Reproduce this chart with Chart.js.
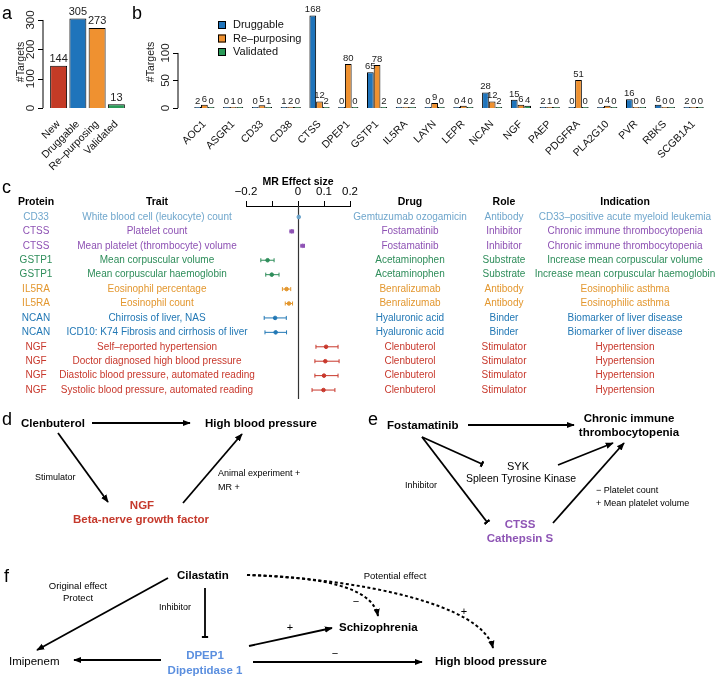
<!DOCTYPE html>
<html>
<head>
<meta charset="utf-8">
<script src="https://cdn.jsdelivr.net/npm/chart.js@4.4.1/dist/chart.umd.min.js"></script>
<style>
  html, body { margin: 0; padding: 0; background: #fff; }
  #fig { position: relative; width: 720px; height: 680px; overflow: hidden; font-family: "Liberation Sans", Arial, sans-serif; }
  canvas { position: absolute; }
  #chart-a { left: 0; top: 0; }
  #chart-b { left: 130px; top: 0; }
  #chart-c { left: 0; top: 160px; }
  svg { position: absolute; left: 0; top: 0; }
  svg text { font-family: "Liberation Sans", Arial, sans-serif; }
  .node { font-weight: bold; font-size: 11.5px; }
  .small { font-size: 9px; }
  .lab { font-size: 18px; }
</style>
</head>
<body>
<div id="fig">
  <canvas id="chart-a" width="130" height="175"></canvas>
  <canvas id="chart-b" width="590" height="175"></canvas>
  <canvas id="chart-c" width="720" height="250"></canvas>
  <svg width="720" height="680" viewBox="0 0 720 680">
    <defs>
      <marker id="arr" viewBox="0 0 10 10" refX="9" refY="5" markerWidth="8" markerHeight="8" markerUnits="userSpaceOnUse" orient="auto">
        <path d="M0,1 L10,5 L0,9 z" fill="#000"/>
      </marker>
      <marker id="tee" viewBox="0 0 4 10" refX="2" refY="5" markerWidth="2.5" markerHeight="9" markerUnits="userSpaceOnUse" orient="auto">
        <rect x="0" y="0" width="4" height="10" fill="#000"/>
      </marker>
    </defs>
    <!-- panel labels -->
    <text class="lab" x="2" y="19">a</text>
    <text class="lab" x="132" y="19">b</text>
    <text class="lab" x="2" y="193">c</text>
    <text class="lab" x="2" y="425">d</text>
    <text class="lab" x="368" y="425">e</text>
    <text class="lab" x="4" y="582">f</text>

    <g stroke="#000" stroke-width="1.8" fill="none">
      <!-- d -->
      <line x1="92" y1="423" x2="190" y2="423" marker-end="url(#arr)"/>
      <line x1="58" y1="433" x2="108" y2="502" marker-end="url(#arr)"/>
      <line x1="183" y1="503" x2="242" y2="434" marker-end="url(#arr)"/>
      <!-- e -->
      <line x1="468" y1="425" x2="574" y2="425" marker-end="url(#arr)"/>
      <line x1="422" y1="437" x2="482" y2="464" marker-end="url(#tee)"/>
      <line x1="422" y1="437" x2="487" y2="522" marker-end="url(#tee)"/>
      <line x1="558" y1="465" x2="613" y2="443" marker-end="url(#arr)"/>
      <line x1="553" y1="523" x2="624" y2="443" marker-end="url(#arr)"/>
      <!-- f -->
      <line x1="168" y1="578" x2="37" y2="650" marker-end="url(#arr)"/>
      <line x1="205" y1="588" x2="205" y2="637" marker-end="url(#tee)"/>
      <line x1="161" y1="660" x2="74" y2="660" marker-end="url(#arr)"/>
      <line x1="249" y1="646" x2="332" y2="628" marker-end="url(#arr)"/>
      <line x1="253" y1="662" x2="422" y2="662" marker-end="url(#arr)"/>
      <path d="M247,575 C320,577 372,586 378,616" stroke-dasharray="3,2.5" stroke-width="2" marker-end="url(#arr)"/>
      <path d="M247,575 C360,579 482,604 493,648" stroke-dasharray="3,2.5" stroke-width="2" marker-end="url(#arr)"/>
    </g>

    <!-- d text -->
    <text class="node" x="21" y="427">Clenbuterol</text>
    <text class="node" x="205" y="427">High blood pressure</text>
    <text class="small" x="35" y="480">Stimulator</text>
    <text class="small" x="218" y="476">Animal experiment +</text>
    <text class="small" x="218" y="490">MR +</text>
    <text class="node" x="142" y="509" text-anchor="middle" fill="#c5392c">NGF</text>
    <text class="node" x="141" y="523" text-anchor="middle" fill="#c5392c">Beta-nerve growth factor</text>

    <!-- e text -->
    <text class="node" x="387" y="429">Fostamatinib</text>
    <text class="node" x="629" y="422" text-anchor="middle">Chronic immune</text>
    <text class="node" x="629" y="436" text-anchor="middle">thrombocytopenia</text>
    <text x="518" y="470" text-anchor="middle" font-size="11">SYK</text>
    <text x="521" y="482" text-anchor="middle" font-size="10.5">Spleen Tyrosine Kinase</text>
    <text class="small" x="405" y="488">Inhibitor</text>
    <text class="node" x="520" y="528" text-anchor="middle" fill="#8e55b5">CTSS</text>
    <text class="node" x="520" y="542" text-anchor="middle" fill="#8e55b5">Cathepsin S</text>
    <text class="small" x="596" y="493">− Platelet count</text>
    <text class="small" x="596" y="506">+ Mean platelet volume</text>

    <!-- f text -->
    <text class="node" x="177" y="579">Cilastatin</text>
    <text x="78" y="589" text-anchor="middle" font-size="9.5">Original effect</text>
    <text x="78" y="601" text-anchor="middle" font-size="9.5">Protect</text>
    <text class="small" x="175" y="610" text-anchor="middle">Inhibitor</text>
    <text class="node" x="205" y="659" text-anchor="middle" fill="#5b8fdf">DPEP1</text>
    <text class="node" x="205" y="674" text-anchor="middle" fill="#5b8fdf">Dipeptidase 1</text>
    <text x="9" y="665" font-size="11.5">Imipenem</text>
    <text x="290" y="631" text-anchor="middle" font-size="11">+</text>
    <text class="node" x="339" y="631">Schizophrenia</text>
    <text x="335" y="657" text-anchor="middle" font-size="11">−</text>
    <text class="node" x="435" y="665">High blood pressure</text>
    <text x="395" y="579" text-anchor="middle" font-size="9.5">Potential effect</text>
    <text x="356" y="605" text-anchor="middle" font-size="11">−</text>
    <text x="464" y="615" text-anchor="middle" font-size="11">+</text>
  </svg>
</div>

<script>
// ---- panel a: target counts ----
const summaryLabels = ['New', 'Druggable', 'Re\u2013purposing', 'Validated'];
const summaryCounts = [144, 305, 273, 13];
const summaryTicks = [0, 100, 200, 300];

// ---- panel b: per-protein counts ----
const targetGenes = ['AOC1', 'ASGR1', 'CD33', 'CD38', 'CTSS', 'DPEP1', 'GSTP1', 'IL5RA', 'LAYN',
  'LEPR', 'NCAN', 'NGF', 'PAEP', 'PDGFRA', 'PLA2G10', 'PVR', 'RBKS', 'SCGB1A1'];
const druggableCounts =   [2, 0, 0, 1, 168, 0, 65, 0, 0, 0, 28, 15, 2, 0, 0, 16, 6, 2];
const repurposingCounts = [6, 1, 5, 2, 12, 80, 78, 2, 9, 4, 12, 6, 1, 51, 4, 0, 0, 0];
const validatedCounts =   [0, 0, 1, 0, 2, 0, 2, 2, 0, 0, 2, 4, 0, 0, 0, 0, 0, 0];
const geneTicks = [0, 50, 100];

// ---- panel c: MR effects ----
const mrProteins = ['CD33', 'CTSS', 'CTSS', 'GSTP1', 'GSTP1', 'IL5RA', 'IL5RA', 'NCAN', 'NCAN', 'NGF', 'NGF', 'NGF', 'NGF'];
const mrTraits = [
  'White blood cell (leukocyte) count', 'Platelet count', 'Mean platelet (thrombocyte) volume',
  'Mean corpuscular volume', 'Mean corpuscular haemoglobin', 'Eosinophil percentage', 'Eosinophil count',
  'Chirrosis of liver, NAS', 'ICD10: K74 Fibrosis and cirrhosis of liver', 'Self\u2013reported hypertension',
  'Doctor diagnosed high blood pressure', 'Diastolic blood pressure, automated reading',
  'Systolic blood pressure, automated reading'
];
const mrEffect = [0.003, -0.024, 0.018, -0.117, -0.101, -0.044, -0.035, -0.088, -0.086, 0.108, 0.105, 0.100, 0.098];
const mrLow =    [0.000, -0.031, 0.011, -0.143, -0.124, -0.060, -0.049, -0.130, -0.127, 0.069, 0.065, 0.065, 0.054];
const mrHigh =   [0.006, -0.017, 0.025, -0.092, -0.073, -0.028, -0.021, -0.045, -0.044, 0.154, 0.158, 0.154, 0.142];
const mrDrugs = ['Gemtuzumab ozogamicin', 'Fostamatinib', 'Fostamatinib', 'Acetaminophen', 'Acetaminophen',
  'Benralizumab', 'Benralizumab', 'Hyaluronic acid', 'Hyaluronic acid', 'Clenbuterol', 'Clenbuterol', 'Clenbuterol', 'Clenbuterol'];
const mrRoles = ['Antibody', 'Inhibitor', 'Inhibitor', 'Substrate', 'Substrate', 'Antibody', 'Antibody',
  'Binder', 'Binder', 'Stimulator', 'Stimulator', 'Stimulator', 'Stimulator'];
const mrIndications = ['CD33\u2013positive acute myeloid leukemia', 'Chronic immune thrombocytopenia',
  'Chronic immune thrombocytopenia', 'Increase mean corpuscular volume', 'Increase mean corpuscular haemoglobin',
  'Eosinophilic asthma', 'Eosinophilic asthma', 'Biomarker of liver disease', 'Biomarker of liver disease',
  'Hypertension', 'Hypertension', 'Hypertension', 'Hypertension'];
const effectTicks = [-0.2, -0.1, 0, 0.1, 0.2];

const proteinColors = {
  CD33: '#6fa6cc', CTSS: '#8e52b4', GSTP1: '#2e8d5a', IL5RA: '#e3972f', NCAN: '#2278b5', NGF: '#c8382c'
};
const FONT = '"Liberation Sans", Arial, sans-serif';
const BLUE = '#1f74bb', ORANGE = '#ef9130', GREEN = '#2a9a58', RED = '#c43b26';

Chart.defaults.font.family = FONT;
Chart.defaults.color = '#000';

// R-like y axis: line only over tick range, rotated labels
const rAxis = {
  id: 'rAxis',
  afterDraw(chart, args, opts) {
    const { ctx } = chart;
    const y = chart.scales.y;
    const x0 = opts.x;
    ctx.save();
    ctx.strokeStyle = '#000';
    ctx.lineWidth = 1;
    ctx.beginPath();
    ctx.moveTo(x0, y.getPixelForValue(opts.ticks[0]));
    ctx.lineTo(x0, y.getPixelForValue(opts.ticks[opts.ticks.length - 1]));
    opts.ticks.forEach(t => {
      const py = Math.round(y.getPixelForValue(t)) + 0.5;
      ctx.moveTo(x0, py);
      ctx.lineTo(x0 - 5, py);
    });
    ctx.stroke();
    ctx.fillStyle = '#222';
    ctx.font = `11.5px ${FONT}`;
    ctx.textAlign = 'center';
    ctx.textBaseline = 'bottom';
    opts.ticks.forEach(t => {
      ctx.save();
      ctx.translate(x0 - 6, y.getPixelForValue(t));
      ctx.rotate(-Math.PI / 2);
      ctx.fillText(String(t), 0, 0);
      ctx.restore();
    });
    ctx.font = `10.5px ${FONT}`;
    ctx.textBaseline = 'middle';
    ctx.translate(opts.titleX, opts.titleY);
    ctx.rotate(-Math.PI / 2);
    ctx.fillText('#Targets', 0, 0);
    ctx.restore();
  }
};

// numbers above bars
const barValues = {
  id: 'barValues',
  afterDatasetsDraw(chart, args, opts) {
    const { ctx } = chart;
    ctx.save();
    ctx.font = `${opts.size}px ${FONT}`;
    ctx.fillStyle = '#222';
    ctx.textAlign = 'center';
    ctx.textBaseline = 'bottom';
    chart.data.datasets.forEach((ds, i) => {
      chart.getDatasetMeta(i).data.forEach((bar, j) => {
        ctx.fillText(String(ds.data[j]), bar.x, bar.y - 1);
      });
    });
    ctx.restore();
  }
};

// simple square legend
const boxLegend = {
  id: 'boxLegend',
  afterDraw(chart, args, opts) {
    const { ctx } = chart;
    ctx.save();
    ctx.font = `11px ${FONT}`;
    ctx.textBaseline = 'middle';
    chart.data.datasets.forEach((ds, i) => {
      const y = opts.y + i * opts.step;
      ctx.fillStyle = ds.backgroundColor;
      ctx.fillRect(opts.x, y - 4, 8, 8);
      ctx.strokeStyle = '#000';
      ctx.strokeRect(opts.x + 0.5, y - 3.5, 7, 7);
      ctx.fillStyle = '#111';
      ctx.fillText(ds.label, opts.x + 15, y);
    });
    ctx.restore();
  }
};

function barScales(yMax, xFont) {
  return {
    x: {
      grid: { display: false },
      border: { display: false },
      ticks: { autoSkip: false, minRotation: 45, maxRotation: 45, padding: 2, font: { size: xFont }, color: '#111' },
      afterFit: s => { s.height = 67; }
    },
    y: { display: false, min: 0, max: yMax }
  };
}

new Chart(document.getElementById('chart-a'), {
  type: 'bar',
  data: {
    labels: summaryLabels,
    datasets: [{
      data: summaryCounts,
      backgroundColor: [RED, BLUE, ORANGE, GREEN],
      borderColor: '#000',
      borderWidth: 1,
      barPercentage: 0.9,
      categoryPercentage: 0.98
    }]
  },
  options: {
    responsive: false,
    animation: false,
    layout: { padding: { left: 49, right: 4, top: 10, bottom: 0 } },
    plugins: {
      legend: { display: false }, tooltip: { enabled: false },
      rAxis: { x: 43, ticks: summaryTicks, titleX: 21, titleY: 62 },
      barValues: { size: 11 }
    },
    scales: barScales(334, 10.5)
  },
  plugins: [rAxis, barValues]
});

new Chart(document.getElementById('chart-b'), {
  type: 'bar',
  data: {
    labels: targetGenes,
    datasets: [
      { label: 'Druggable', data: druggableCounts, backgroundColor: BLUE },
      { label: 'Re\u2013purposing', data: repurposingCounts, backgroundColor: ORANGE },
      { label: 'Validated', data: validatedCounts, backgroundColor: GREEN }
    ].map(ds => Object.assign(ds, {
      borderColor: '#000', borderWidth: 1, minBarLength: 1, barPercentage: 1, categoryPercentage: 0.7
    }))
  },
  options: {
    responsive: false,
    animation: false,
    layout: { padding: { left: 60, right: 12, top: 10, bottom: 0 } },
    plugins: {
      legend: { display: false }, tooltip: { enabled: false },
      rAxis: { x: 48, ticks: geneTicks, titleX: 21, titleY: 62 },
      barValues: { size: 9.5 },
      boxLegend: { x: 88, y: 25, step: 13.5 }
    },
    scales: barScales(178, 10.5)
  },
  plugins: [rAxis, barValues, boxLegend]
});

// ---- panel c: forest plot with text columns ----
const columns = [
  { head: 'Protein', x: 36, values: mrProteins },
  { head: 'Trait', x: 157, values: mrTraits },
  { head: 'Drug', x: 410, values: mrDrugs },
  { head: 'Role', x: 504, values: mrRoles },
  { head: 'Indication', x: 625, values: mrIndications }
];

const forestDecor = {
  id: 'forestDecor',
  beforeDatasetsDraw(chart) {
    const { ctx, chartArea } = chart;
    const x = chart.scales.x;
    const y = chart.scales.y;
    const x0 = Math.round(x.getPixelForValue(0)) + 0.5;
    ctx.save();
    ctx.strokeStyle = '#333';
    ctx.lineWidth = 1.2;
    ctx.beginPath();
    ctx.moveTo(x0, chartArea.top);
    ctx.lineTo(x0, chartArea.bottom);
    ctx.stroke();
    // confidence intervals
    ctx.lineWidth = 1;
    mrEffect.forEach((v, i) => {
      const py = y.getPixelForValue(i);
      const a = x.getPixelForValue(mrLow[i]);
      const b = x.getPixelForValue(mrHigh[i]);
      ctx.strokeStyle = proteinColors[mrProteins[i]];
      ctx.beginPath();
      ctx.moveTo(a, py); ctx.lineTo(b, py);
      ctx.moveTo(a, py - 2); ctx.lineTo(a, py + 2);
      ctx.moveTo(b, py - 2); ctx.lineTo(b, py + 2);
      ctx.stroke();
    });
    ctx.restore();
  },
  afterDraw(chart) {
    const { ctx } = chart;
    const y = chart.scales.y;
    ctx.save();
    ctx.textAlign = 'center';
    ctx.textBaseline = 'middle';
    ctx.font = `bold 10.5px ${FONT}`;
    ctx.fillStyle = '#000';
    columns.forEach(c => ctx.fillText(c.head, c.x, y.getPixelForValue(-1)));
    ctx.font = `10px ${FONT}`;
    columns.forEach(c => {
      c.values.forEach((txt, i) => {
        ctx.fillStyle = proteinColors[mrProteins[i]];
        ctx.fillText(txt, c.x, y.getPixelForValue(i));
      });
    });
    ctx.restore();
  }
};

new Chart(document.getElementById('chart-c'), {
  type: 'scatter',
  data: {
    datasets: [{
      data: mrEffect.map((v, i) => ({ x: v, y: i })),
      pointBackgroundColor: mrProteins.map(p => proteinColors[p]),
      pointBorderColor: mrProteins.map(p => proteinColors[p]),
      pointRadius: 1.8
    }]
  },
  options: {
    responsive: false,
    animation: false,
    layout: { padding: { left: 246, right: 370, top: 0, bottom: 11 } },
    plugins: { legend: { display: false }, tooltip: { enabled: false } },
    scales: {
      x: {
        position: 'top',
        min: -0.2,
        max: 0.2,
        afterBuildTicks: s => { s.ticks = effectTicks.map(v => ({ value: v })); },
        grid: { drawOnChartArea: false, tickLength: 5, color: '#000' },
        border: { color: '#000', width: 1 },
        ticks: {
          padding: 2,
          minRotation: 0,
          maxRotation: 0,
          autoSkip: false,
          font: { size: 11.5 },
          color: '#000',
          callback: v => (Math.abs(v + 0.1) < 1e-9 ? '' : (v === 0 ? '0' : v.toFixed(1).replace('-', '\u2212')))
        },
        title: { display: true, text: 'MR Effect size', font: { size: 10.5, weight: 'bold' }, padding: { top: 16, bottom: 0 } },
        afterFit: s => { s.height = 46; }
      },
      y: { display: false, reverse: true, min: -0.76, max: 12.62 }
    }
  },
  plugins: [forestDecor]
});
</script>
</body>
</html>
